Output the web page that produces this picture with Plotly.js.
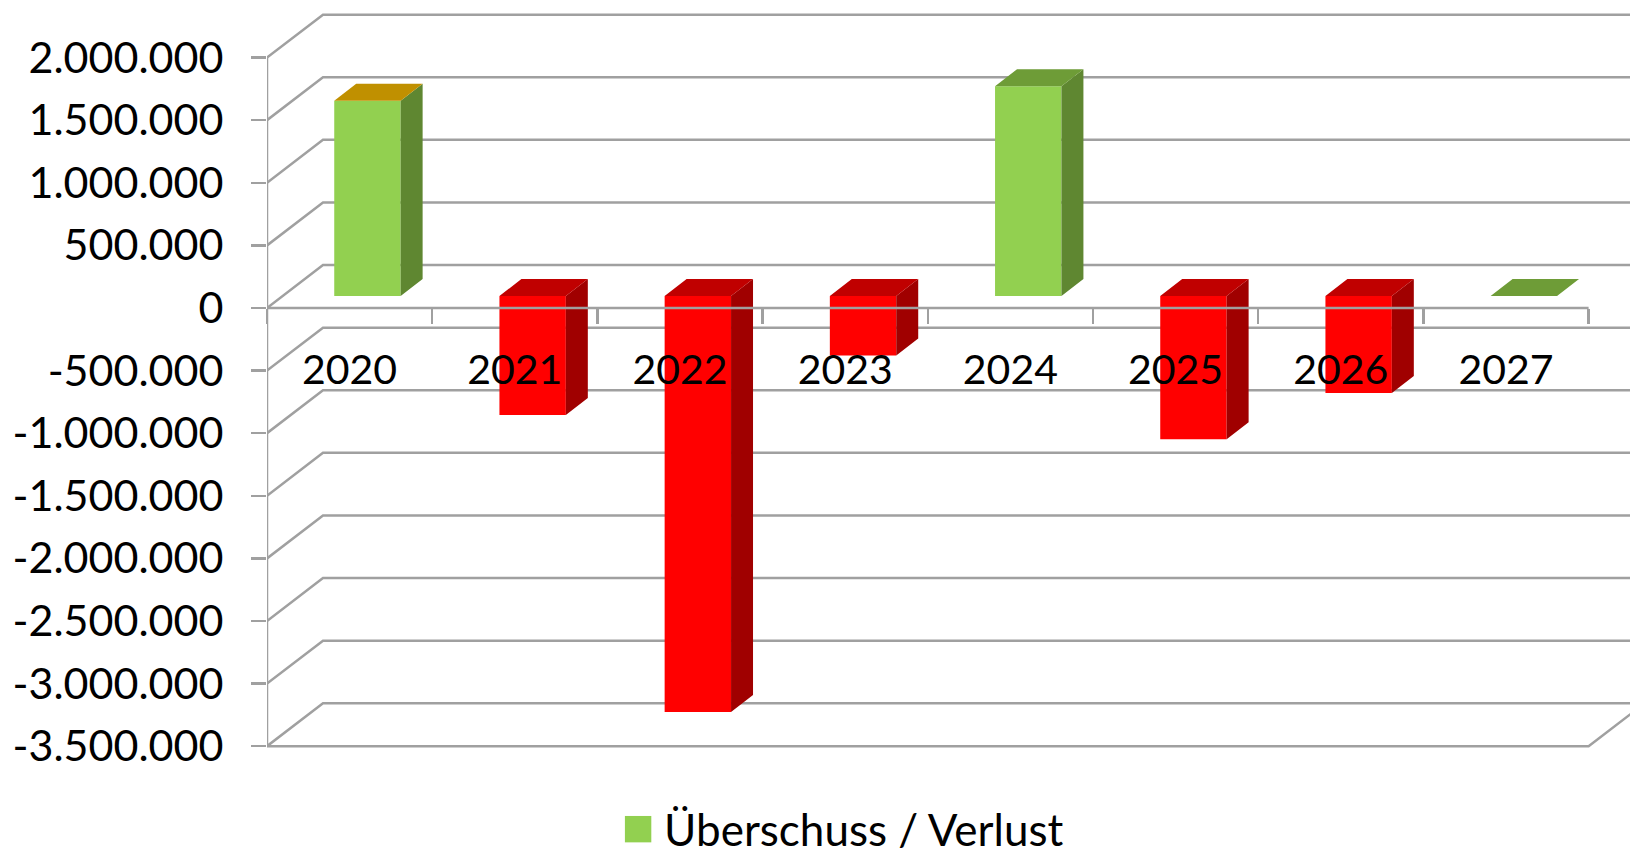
<!DOCTYPE html>
<html><head><meta charset="utf-8">
<script src="https://cdn.plot.ly/plotly-3.0.1.min.js"></script>
<style>html,body{margin:0;padding:0;background:#fff;overflow:hidden}#c{width:1630px;height:852px}</style>
</head><body><div id="c"></div>
<script>
const categories = ['2020','2021','2022','2023','2024','2025','2026','2027'];
const values = [1560000,-950000,-3323000,-475000,1675000,-1145000,-775000,0];
const topColors = ['#C09000','#C00000','#C00000','#C00000','#6E9C37','#C00000','#C00000','#6E9C37'];
const tickVals = [2000000,1500000,1000000,500000,0,-500000,-1000000,-1500000,-2000000,-2500000,-3000000,-3500000];
const tickText = ['2.000.000','1.500.000','1.000.000','500.000','0','-500.000','-1.000.000','-1.500.000','-2.000.000','-2.500.000','-3.000.000','-3.500.000'];
const seriesName = 'Überschuss / Verlust';

// oblique "3D" projection, in axis units
const wallDX = 0.339, wallDY = 343000;
const barDX = 0.133, barDY = 135800;
const baseDX = 0.108, baseDY = 95800;
const barW = 0.402;
const labelY = -528500;
const font = 'Lato, sans-serif', fs = 41;
const grey = '#A0A0A0';
const lineW = 2.5;
const xEnd = 8.2506, yTop = 2460064, yBot = -4345048;

const n = categories.length;
const slots = categories.map((_, i) => i + 0.5 + baseDX);
const frontColors = values.map(v => v >= 0 ? '#92D050' : '#FF0000');
const sideColors = values.map(v => v >= 0 ? '#5F8731' : '#A00000');

function facesByColor(colors, polyFn) {
  const groups = {};
  colors.forEach((c, i) => {
    const p = polyFn(i);
    if (!p) return;
    const g = groups[c] = groups[c] || {x: [], y: []};
    g.x.push(...p.x, null); g.y.push(...p.y, null);
  });
  return Object.keys(groups).map(c => ({
    type: 'scatter', mode: 'lines', x: groups[c].x, y: groups[c].y, fill: 'toself',
    fillcolor: c, line: {width: 0, color: c}, showlegend: false, hoverinfo: 'skip'
  }));
}
const sideFaces = facesByColor(sideColors, i => {
  if (!values[i]) return null;
  const r = slots[i] + barW / 2, b = baseDY, t = baseDY + values[i];
  return {x: [r, r + barDX, r + barDX, r, r], y: [b, b + barDY, t + barDY, t, b]};
});
const topFaces = facesByColor(topColors, i => {
  const l = slots[i] - barW / 2, r = slots[i] + barW / 2, t = baseDY + Math.max(values[i], 0);
  return {x: [l, r, r + barDX, l + barDX, l], y: [t, t, t + barDY, t + barDY, t]};
});

const front = {
  type: 'bar', name: seriesName, x: slots, y: values, base: baseDY, width: barW,
  marker: {color: frontColors, line: {width: 0}}, showlegend: true, hoverinfo: 'skip'
};
const axisLines = {
  type: 'scatter', mode: 'lines', showlegend: false, hoverinfo: 'skip', cliponaxis: false,
  x: [0, n, null, 0, 0], y: [0, 0, null, tickVals[0], tickVals[tickVals.length - 1]],
  line: {color: grey, width: lineW}
};
const catLabels = {
  type: 'scatter', mode: 'text', showlegend: false, hoverinfo: 'skip', cliponaxis: false,
  x: categories.map((_, i) => i + 0.5), y: categories.map(() => labelY), text: categories,
  textposition: 'middle center', textfont: {family: font, size: fs, color: '#000'}
};

const last = tickVals[tickVals.length - 1];
const shapes = tickVals.map(v => ({
  type: 'path', layer: 'below', xref: 'x', yref: 'y', line: {color: grey, width: lineW},
  path: `M0,${v} L${wallDX},${v + wallDY} L${n + wallDX},${v + wallDY}`
}));
shapes.push({
  type: 'path', layer: 'below', xref: 'x', yref: 'y', line: {color: grey, width: lineW},
  path: `M0,${last} L${n},${last} L${n + wallDX},${last + wallDY}`
});

const layout = {
  width: 1630, height: 852, paper_bgcolor: '#fff', plot_bgcolor: '#fff',
  margin: {l: 267, r: 0, t: 0, b: 0, pad: 0, autoexpand: false},
  font: {family: font, size: fs, color: '#000'},
  barmode: 'overlay', shapes,
  xaxis: {
    range: [0, xEnd], anchor: 'free', position: 1 - 308 / 852,
    tickmode: 'array', tickvals: categories.map((_, i) => i).concat(n), showticklabels: false,
    ticks: 'outside', ticklen: 15, tickwidth: lineW, tickcolor: grey,
    showgrid: false, zeroline: false, showline: false, fixedrange: true
  },
  yaxis: {
    range: [yBot, yTop], tickmode: 'array', tickvals: tickVals, ticktext: tickText,
    ticks: 'outside', ticklen: 15, tickwidth: lineW, tickcolor: grey, ticklabelstandoff: 19,
    tickfont: {family: font, size: 43, color: '#000'},
    showgrid: false, zeroline: false, showline: false, fixedrange: true
  },
  legend: {
    orientation: 'h', x: 0.262, xanchor: 'left', y: 0.068, yanchor: 'top',
    font: {family: font, size: 44, color: '#000'}, itemclick: false, itemdoubleclick: false
  },
  showlegend: true
};
Plotly.newPlot('c', [front, ...sideFaces, ...topFaces, axisLines, catLabels], layout, {displayModeBar: false, staticPlot: true})
  .then(() => {
    const p = document.querySelector('.legend .legendpoints path');
    if (p) p.setAttribute('transform', 'translate(14,0) scale(2.2)');
  });
</script></body></html>
